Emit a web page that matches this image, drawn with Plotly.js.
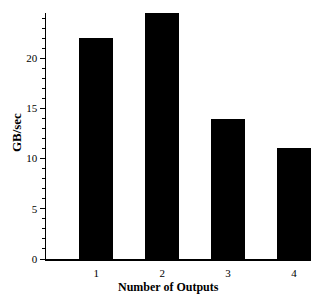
<!DOCTYPE html>
<html><head><meta charset="utf-8">
<script src="https://cdn.plot.ly/plotly-3.0.1.min.js"></script>
<style>body{margin:0;padding:0;background:#fff}#c{width:320px;height:303px}</style>
</head><body><div id="c"></div>
<script>
var outputs = [1, 2, 3, 4];
var gbPerSec = [22.0, 24.5, 13.9, 11.1];
var xTitle = 'Number of Outputs';
var yTitle = 'GB/sec';
var font = "Liberation Serif, Times New Roman, serif";
Plotly.newPlot('c', [{
  type: 'bar', x: outputs, y: gbPerSec, width: 0.52,
  marker: {color: '#000', line: {width: 0}}
}], {
  width: 320, height: 303,
  margin: {l: 46, r: 9, t: 13, b: 44},
  paper_bgcolor: '#fff', plot_bgcolor: '#fff',
  font: {family: font, color: '#000', size: 11},
  showlegend: false,
  bargap: 0,
  xaxis: {
    range: [0.235, 4.26], tickvals: outputs, ticktext: outputs.map(String),
    showgrid: false, zeroline: false, showline: true, linecolor: '#000', linewidth: 1.5,
    ticks: 'outside', ticklen: 3, tickcolor: 'rgba(0,0,0,0)',
    tickfont: {family: font, size: 11}
  },
  yaxis: {
    range: [0, 24.5], tickvals: [0, 5, 10, 15, 20],
    showgrid: false, zeroline: false, showline: true, linecolor: '#000', linewidth: 1.5,
    ticks: 'outside', ticklen: 5, tickwidth: 1, tickcolor: '#000',
    minor: {dtick: 1, ticks: 'outside', ticklen: 3, tickwidth: 1, tickcolor: '#000'},
    tickfont: {family: font, size: 11}
  },
  annotations: [
    {text: '<b>' + xTitle + '</b>', xref: 'paper', yref: 'paper', x: 0.463, y: -0.1126,
     xanchor: 'center', yanchor: 'middle', showarrow: false, font: {family: font, size: 12}},
    {text: '<b>' + yTitle + '</b>', xref: 'paper', yref: 'paper', x: -0.113, y: 0.512,
     xanchor: 'center', yanchor: 'middle', textangle: -90, showarrow: false, font: {family: font, size: 13}}
  ]
}, {displayModeBar: false, staticPlot: true});
</script></body></html>
